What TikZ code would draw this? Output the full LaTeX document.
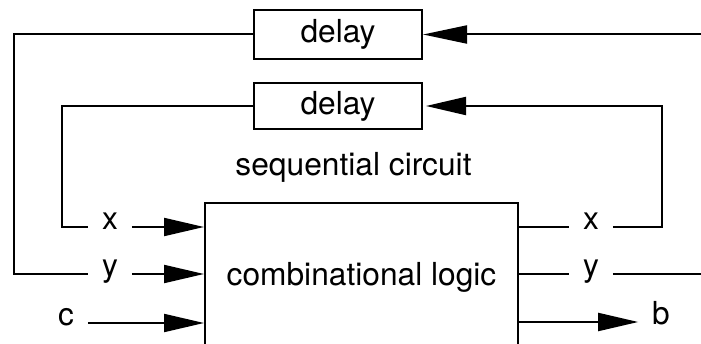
\documentclass[tikz,border=0pt]{standalone}
\usepackage{fontspec}
\setmainfont{TeX Gyre Heros}
\usetikzlibrary{arrows.meta}
\begin{document}
\begin{tikzpicture}[x=1pt, y=-1pt, line width=2pt,
  every node/.style={font=\fontsize{31.7}{38}\selectfont},
  box/.style={draw, line width=2pt, inner sep=0pt},
  sig/.style={inner xsep=13pt, inner ysep=0pt, text height=1ex, text depth=0pt},
  flow/.style={-{Triangle[length=40pt,width=18pt]}},
]
\clip (0,0) rectangle (701,344);

% guide coordinates for the vertical runs and the right edge
\coordinate (L1) at (14,0);
\coordinate (L2) at (62,0);
\coordinate (R2) at (662,0);
\coordinate (E)  at (701,0);

% blocks
\node[box, minimum width=168pt, minimum height=49pt] (d1) at (338,34.5) {delay};
\node[box, minimum width=168pt, minimum height=46pt] (d2) at (338,106) {delay};
\node[anchor=base] (seq) at (353.5,176) {sequential circuit};
\node[box, minimum width=313pt, minimum height=148pt] (logic) at (361.5,277) {combinational logic};

% signal names
\node[sig] (xin)  at (110,227) {x};
\node[sig] (yin)  at (110,274) {y};
\node[sig] (cin)  at (66,323) {c};
\node[sig] (xout) at (591,227) {x};
\node[sig] (yout) at (591,274) {y};
\node[sig] (bout) at (661,322) {b};

% outer feedback loop (y)
\draw[-{Triangle[length=44pt,width=18pt]}] (d1.east -| E) -- (d1.east);
\draw (d1.west) -| (yin.west -| L1) -- (yin.west);

% inner feedback loop (x)
\draw (d2.west) -| (xin.west -| L2) -- (xin.west);
\draw[flow, shorten >=3pt] (xout.east) -- (xout.east -| R2) |- (d2.east);

% inputs
\draw[flow] (xin.east) -- (xin.east -| logic.west);
\draw[flow] (yin.east) -- (yin.east -| logic.west);
\draw[flow] (cin.east) -- (cin.east -| logic.west);

% outputs
\draw (logic.east |- xout) -- (xout.west);
\draw (logic.east |- yout) -- (yout.west);
\draw (yout.east) -- (yout.east -| E);
\draw[flow] (logic.east |- bout) -- (bout.west);
\end{tikzpicture}
\end{document}
